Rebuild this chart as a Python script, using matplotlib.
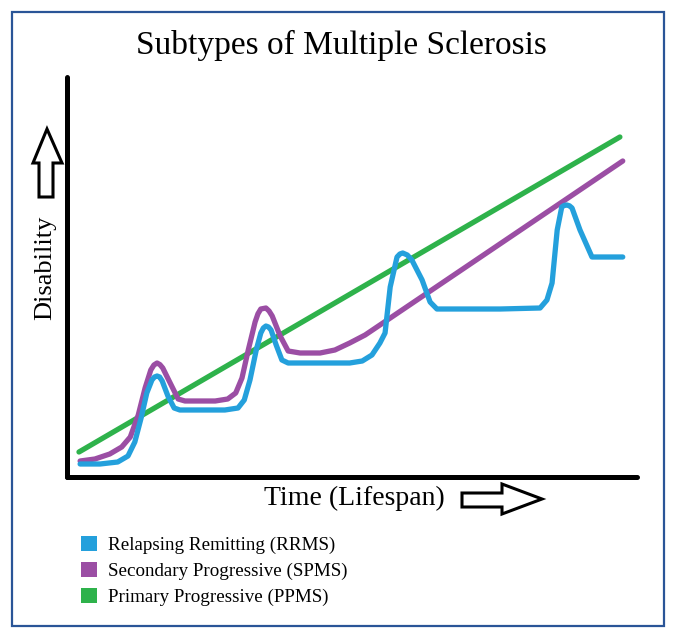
import matplotlib
matplotlib.use("Agg")
import matplotlib.pyplot as plt
from matplotlib.patches import Patch, Polygon, Rectangle

W, H = 678, 640

# Curves (time 0-100, disability 0-100)
ppms_time = [2.1, 97.0]
ppms_dis = [6.25, 85.0]

spms_time = [2.3, 4.9, 7.5, 9.6, 11.1, 12.5, 13.7, 14.7, 15.25, 15.8, 16.3, 16.8,
             18.1, 19.5, 20.7, 26.0, 28.2, 29.6, 30.7, 31.8, 33.0, 33.5, 34.0,
             34.9, 35.45, 36.0, 37.4, 38.8, 40.9, 44.4, 47.0, 49.6, 52.3, 54.9, 97.5]
spms_dis = [4.0, 4.5, 5.75, 7.5, 10.0, 15.5, 22.25, 26.75, 28.0, 28.5, 28.1, 27.25,
            23.5, 19.5, 19.0, 19.0, 19.5, 21.0, 24.75, 31.75, 38.75, 40.8, 42.0,
            42.25, 41.5, 40.25, 35.25, 31.5, 31.0, 31.0, 31.75, 33.5, 35.5, 38.0, 79.0]

rrms_time = [2.3, 5.8, 8.9, 10.7, 11.9, 13.0, 14.0, 14.9, 15.35, 15.8, 16.25, 16.7,
             17.7, 18.8, 19.8, 27.7, 30.0, 31.1, 32.1, 33.2, 34.0, 34.45, 34.9,
             35.35, 35.8, 36.7, 37.7, 38.8, 49.6, 51.8, 53.5, 54.9, 55.8, 56.7,
             57.9, 58.4, 58.9, 59.7, 60.5, 62.3, 63.7, 64.9, 76.0, 83.0, 84.2,
             85.1, 86.0, 86.8, 87.25, 87.7, 88.15, 88.6, 90.0, 92.1, 97.5]
rrms_dis = [3.25, 3.25, 3.75, 5.25, 8.75, 14.75, 21.0, 24.25, 25.0, 25.25, 25.0, 24.0,
            20.25, 17.25, 16.75, 16.75, 17.25, 19.25, 24.25, 31.75, 36.0, 37.25, 37.75,
            37.5, 36.75, 33.0, 29.25, 28.5, 28.5, 29.0, 30.5, 33.5, 36.0, 47.5,
            55.0, 55.75, 56.0, 55.5, 54.25, 49.25, 43.75, 42.0, 42.0, 42.25, 44.25,
            48.5, 61.75, 67.5, 67.9, 68.0, 67.8, 67.25, 61.75, 55.0, 55.0]

labels = ["Relapsing Remitting (RRMS)", "Secondary Progressive (SPMS)",
          "Primary Progressive (PPMS)"]
colors = ["#24A0DC", "#9B4EA4", "#2EB24B"]

SERIF = "Liberation Serif"


def fx(px):
    return px / W


def fy(py):
    return 1 - py / H


def hollow_arrow(pts):
    poly = Polygon([(fx(x), fy(y)) for x, y in pts], closed=True,
                   facecolor="white", edgecolor="black", lw=2.2,
                   joinstyle="miter", transform=fig.transFigure)
    fig.patches.append(poly)


fig = plt.figure(figsize=(W / 100, H / 100), dpi=100)

# outer blue frame
fig.patches.append(Rectangle((fx(12), fy(626)), fx(652), 614 / H, fill=False,
                             edgecolor="#2A5597", lw=1.6, transform=fig.transFigure))

ax = fig.add_axes([fx(67), fy(477), fx(637 - 67), (477 - 77) / H])
ax.set_xlim(0, 100)
ax.set_ylim(0, 100)
for s in ["top", "right"]:
    ax.spines[s].set_visible(False)
for s in ["left", "bottom"]:
    ax.spines[s].set_linewidth(3.6)
    ax.spines[s].set_capstyle("round")
ax.set_xticks([])
ax.set_yticks([])
ax.patch.set_alpha(0)

ax.plot(ppms_time, ppms_dis, color=colors[2], lw=3.8, solid_capstyle="round")
ax.plot(spms_time, spms_dis, color=colors[1], lw=3.8, solid_capstyle="round",
        solid_joinstyle="round")
ax.plot(rrms_time, rrms_dis, color=colors[0], lw=3.8, solid_capstyle="round",
        solid_joinstyle="round")

fig.text(fx(341), fy(45), "Subtypes of Multiple Sclerosis", family=SERIF,
         fontsize=24, ha="center", va="center")
fig.text(fx(354), fy(498), "Time (Lifespan)", family=SERIF, fontsize=20,
         ha="center", va="center")
fig.text(fx(45), fy(268), "Disability", family=SERIF, fontsize=19,
         ha="center", va="center", rotation=90)

# hollow arrows beside the axis labels
hollow_arrow([(39, 197), (53, 197), (53, 163), (62, 163), (47, 129),
              (33, 163), (39, 163)])
hollow_arrow([(462, 493), (502, 493), (502, 484), (542, 499), (502, 514),
              (502, 507), (462, 507)])

handles = [Patch(facecolor=c, edgecolor="none") for c in colors]
fig.legend(handles, labels, loc="upper left", bbox_to_anchor=(fx(71), fy(526)),
           frameon=False, prop={"family": SERIF, "size": 13.7},
           handlelength=0.85, handleheight=0.85, handletextpad=0.6,
           labelspacing=0.42, borderpad=0)

fig.savefig("out.png", dpi=100)
